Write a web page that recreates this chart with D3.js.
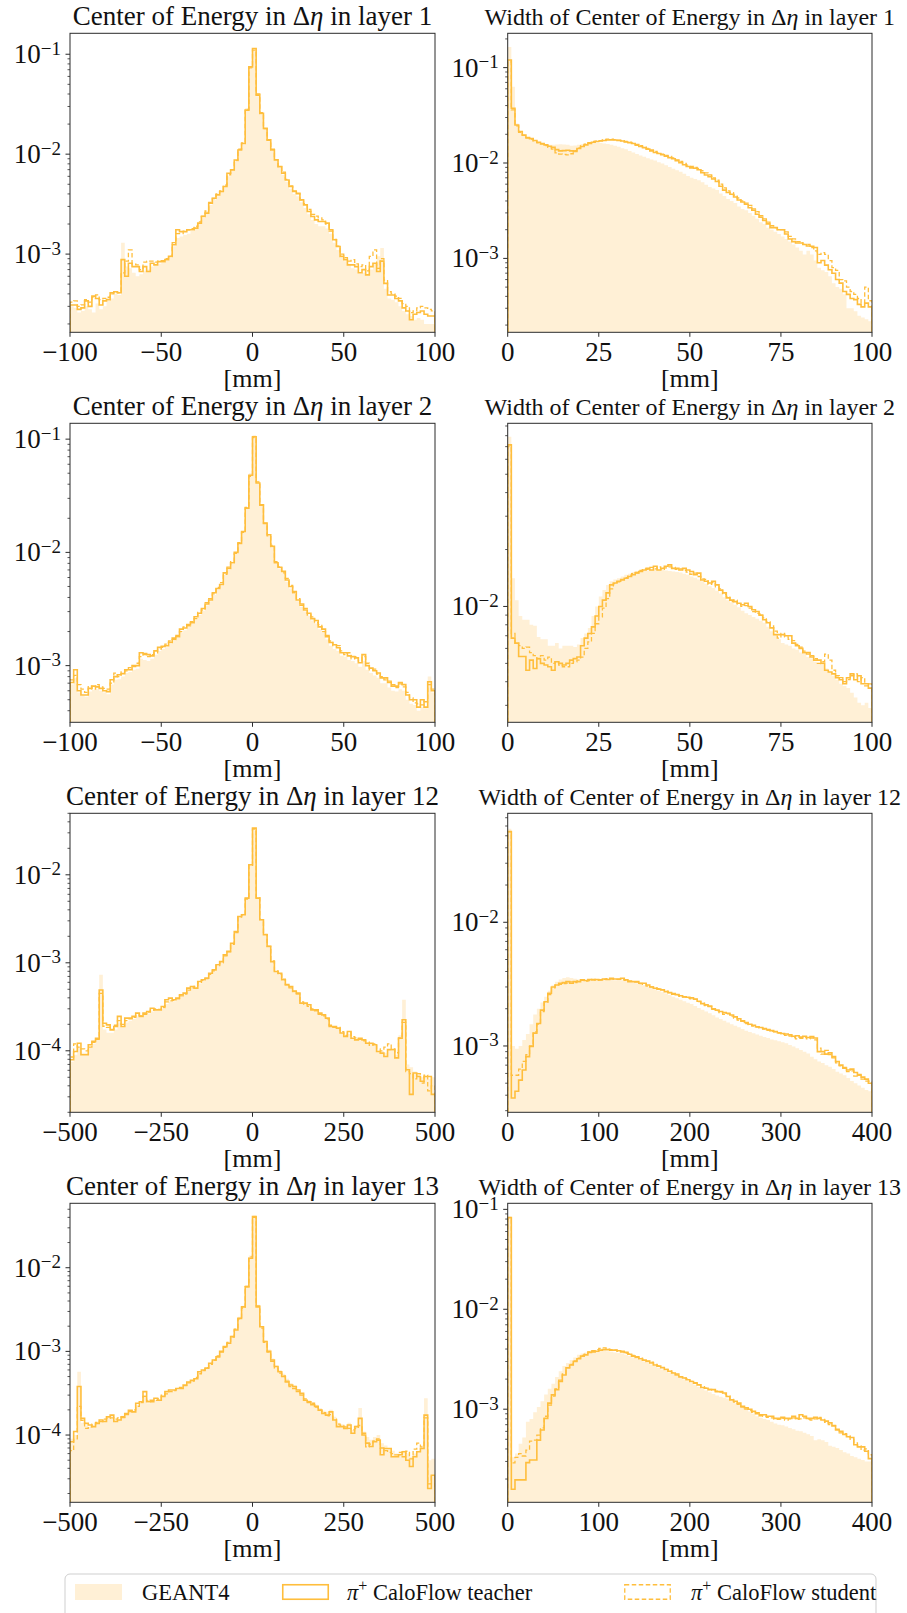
<!DOCTYPE html>
<html><head><meta charset="utf-8">
<script src="https://cdn.jsdelivr.net/npm/d3@7"></script>
<style>body{margin:0;background:#fff}svg{display:block}</style>
</head><body>
<svg id="chart" width="907" height="1613"></svg>
<script>
// ---------------- DATA ----------------
const legendLabels = ["GEANT4", "CaloFlow teacher", "CaloFlow student"];
const xLabel = "[mm]";

const p1Ticks = [-100, -50, 0, 50, 100];
const p2Ticks = [0, 25, 50, 75, 100];
const p5Ticks = [-500, -250, 0, 250, 500];
const p6Ticks = [0, 100, 200, 300, 400];

const p1Geant = [3.0e-4,2.9e-4,2.6e-4,2.7e-4,3.0e-4,2.8e-4,2.6e-4,3.2e-4,2.8e-4,3.0e-4,
3.4e-4,3.6e-4,4.0e-4,3.9e-4,1.3e-3,7.5e-4,7.2e-4,6.5e-4,6.0e-4,6.3e-4,
6.8e-4,7.0e-4,7.5e-4,7.6e-4,8.0e-4,8.2e-4,8.6e-4,9.2e-4,1.2e-3,1.45e-3,
1.5e-3,1.55e-3,1.6e-3,1.7e-3,1.8e-3,2.0e-3,2.3e-3,2.7e-3,3.1e-3,3.5e-3,
3.8e-3,4.3e-3,4.8e-3,6.0e-3,6.8e-3,8.4e-3,1.08e-2,1.25e-2,2.9e-2,7.2e-2,
0.108,3.8e-2,2.5e-2,1.78e-2,1.35e-2,1.08e-2,8.6e-3,7.3e-3,6.2e-3,5.3e-3,
4.5e-3,4.0e-3,3.8e-3,3.3e-3,2.9e-3,2.5e-3,2.2e-3,2.0e-3,1.9e-3,1.9e-3,
1.8e-3,1.6e-3,1.3e-3,1.1e-3,9.2e-4,8.5e-4,7.8e-4,7.2e-4,7.0e-4,6.4e-4,
6.5e-4,6.2e-4,7.0e-4,8.0e-4,9.5e-4,1.15e-3,4.5e-4,3.6e-4,3.5e-4,3.3e-4,
3.0e-4,2.7e-4,2.5e-4,2.4e-4,2.2e-4,2.3e-4,2.2e-4,2.0e-4,2.0e-4,2.0e-4];
const p1Teacher = [3.1e-4,3.1e-4,2.8e-4,2.9e-4,3.4e-4,3.0e-4,3.8e-4,3.6e-4,3.1e-4,3.4e-4,
3.5e-4,4.1e-4,4.2e-4,4.1e-4,8.8e-4,6.0e-4,8.1e-4,7.5e-4,7.5e-4,6.7e-4,
7.5e-4,6.7e-4,8.1e-4,7.8e-4,8.4e-4,8.4e-4,8.8e-4,9.5e-4,1.24e-3,1.75e-3,
1.68e-3,1.68e-3,1.75e-3,1.75e-3,1.82e-3,2.04e-3,2.38e-3,2.57e-3,3.23e-3,3.62e-3,
3.91e-3,4.23e-3,4.74e-3,6.44e-3,6.95e-3,8.75e-3,1.1e-2,1.28e-2,2.76e-2,7.48e-2,
0.114,3.9e-2,2.56e-2,1.81e-2,1.38e-2,1.1e-2,8.75e-3,7.5e-3,6.44e-3,5.52e-3,
4.74e-3,4.23e-3,4.07e-3,3.49e-3,3.11e-3,2.67e-3,2.38e-3,2.2e-3,2.12e-3,2.12e-3,
2.04e-3,1.75e-3,1.39e-3,1.19e-3,9.5e-4,8.8e-4,7.8e-4,7.8e-4,7.5e-4,6.5e-4,
7.0e-4,6.2e-4,7.5e-4,8.1e-4,6.7e-4,8.5e-4,5.1e-4,3.9e-4,3.9e-4,3.6e-4,
3.4e-4,2.9e-4,2.7e-4,2.2e-4,2.5e-4,2.6e-4,2.7e-4,2.5e-4,2.4e-4,2.4e-4];
const p1Student = [3.3e-4,3.4e-4,3.0e-4,3.1e-4,3.5e-4,3.3e-4,3.7e-4,3.9e-4,3.5e-4,3.6e-4,
3.7e-4,4.0e-4,4.2e-4,4.1e-4,6.5e-4,8.5e-4,1.1e-3,8.0e-4,7.8e-4,7.0e-4,
8.3e-4,8.5e-4,8.5e-4,8.3e-4,8.5e-4,8.6e-4,9.0e-4,9.5e-4,1.3e-3,1.6e-3,
1.6e-3,1.7e-3,1.75e-3,1.8e-3,1.9e-3,2.1e-3,2.4e-3,2.7e-3,3.3e-3,3.6e-3,
4.0e-3,4.3e-3,4.9e-3,6.2e-3,7.0e-3,8.6e-3,1.12e-2,1.3e-2,2.8e-2,7.3e-2,
0.11,4.0e-2,2.6e-2,1.8e-2,1.4e-2,1.12e-2,8.8e-3,7.5e-3,6.6e-3,5.6e-3,
4.8e-3,4.3e-3,4.0e-3,3.5e-3,3.2e-3,2.8e-3,2.5e-3,2.4e-3,2.3e-3,2.2e-3,
2.0e-3,1.7e-3,1.4e-3,1.2e-3,1.0e-3,9.2e-4,8.5e-4,8.8e-4,8.0e-4,7.5e-4,
7.8e-4,6.8e-4,9.5e-4,1.1e-3,7.2e-4,9.0e-4,5.5e-4,4.2e-4,4.0e-4,3.8e-4,
3.6e-4,3.2e-4,3.0e-4,2.6e-4,2.7e-4,2.9e-4,3.0e-4,2.9e-4,2.8e-4,2.7e-4];

const p2Geant = [0.165,0.063,0.026,0.021,0.0195,0.0185,0.0178,0.0172,0.0166,0.0162,
0.0158,0.0155,0.0155,0.0156,0.0157,0.0156,0.0155,0.0152,0.0153,0.0155,
0.0158,0.016,0.0162,0.0163,0.0163,0.0162,0.016,0.0158,0.0155,0.0152,
0.0148,0.0143,0.0139,0.0134,0.0129,0.0124,0.012,0.0116,0.0112,0.0109,
0.0106,0.0102,0.0099,0.0095,0.0091,0.0087,0.0084,0.0081,0.0077,0.0073,
0.007,0.0068,0.0066,0.0063,0.0059,0.0056,0.0054,0.0052,0.0048,0.0045,
0.0042,0.004,0.0038,0.0035,0.0033,0.0032,0.003,0.0028,0.0026,0.0024,
0.0023,0.0021,0.002,0.0019,0.0018,0.0017,0.0016,0.0015,0.0014,0.0013,
0.0012,0.0011,0.0012,0.0011,0.00095,0.0008,0.00075,0.00072,0.00065,0.00055,
0.0005,0.00048,0.00042,0.0003,0.0003,0.00028,0.00025,0.00024,0.00023,0.00022];
const p2Teacher = [0.12,0.0375,0.025,0.0214,0.0197,0.0185,0.018,0.0172,0.0165,0.016,
0.0155,0.015,0.0146,0.0138,0.0134,0.0135,0.0136,0.0134,0.0132,0.0142,
0.0149,0.0155,0.016,0.0165,0.0168,0.017,0.0172,0.0174,0.0175,0.0174,
0.0172,0.017,0.0166,0.0163,0.016,0.0154,0.0149,0.0145,0.014,0.0134,
0.0129,0.0126,0.0122,0.0118,0.0114,0.0111,0.0106,0.0101,0.0096,0.0092,
0.0089,0.0088,0.0085,0.0079,0.0075,0.0072,0.0068,0.0064,0.0057,0.0052,
0.0049,0.0047,0.0044,0.0041,0.0039,0.0037,0.0034,0.0032,0.0029,0.0027,
0.0025,0.0023,0.0021,0.0021,0.002,0.002,0.0018,0.0016,0.0015,0.00145,
0.00145,0.0014,0.00135,0.00134,0.0013,0.0009,0.00095,0.00085,0.00076,0.0007,
0.0006,0.00055,0.00045,0.00042,0.00038,0.00037,0.00033,0.00031,0.00034,0.00031];
const p2Student = [0.115,0.036,0.0245,0.021,0.0195,0.0183,0.0178,0.017,0.0163,0.0158,
0.0152,0.0146,0.014,0.0128,0.0124,0.0123,0.0122,0.0125,0.0135,0.0144,
0.0152,0.0158,0.0163,0.0168,0.017,0.0172,0.0176,0.0178,0.0178,0.0176,
0.0174,0.0172,0.0168,0.0165,0.0162,0.0157,0.0152,0.0147,0.0142,0.0137,
0.0132,0.0128,0.0124,0.012,0.0117,0.0113,0.0108,0.0104,0.0099,0.0095,
0.0092,0.009,0.0088,0.0083,0.0079,0.0075,0.007,0.0066,0.006,0.0055,
0.0051,0.0049,0.0046,0.0043,0.004,0.0038,0.0036,0.0033,0.0031,0.0028,
0.0026,0.0024,0.0022,0.0021,0.002,0.002,0.0019,0.0017,0.0016,0.0015,
0.0015,0.0014,0.0014,0.0013,0.0012,0.0011,0.00115,0.0011,0.00095,0.0008,
0.00075,0.0006,0.00058,0.0005,0.00045,0.00042,0.00038,0.00034,0.0005,0.00036];

const p3Geant = [6.8e-4,7.8e-4,5.8e-4,5.4e-4,5.3e-4,5.9e-4,6.1e-4,6.2e-4,6.0e-4,5.8e-4,
5.6e-4,6.8e-4,7.5e-4,7.6e-4,8.0e-4,8.6e-4,8.8e-4,9.2e-4,9.4e-4,1.15e-3,
1.12e-3,1.1e-3,1.15e-3,1.25e-3,1.35e-3,1.4e-3,1.45e-3,1.55e-3,1.65e-3,1.75e-3,
1.95e-3,2.05e-3,2.2e-3,2.35e-3,2.55e-3,2.8e-3,3.05e-3,3.4e-3,3.7e-3,4.2e-3,
4.7e-3,5.1e-3,6.3e-3,7.0e-3,7.9e-3,9.7e-3,1.18e-2,1.5e-2,2.5e-2,5.0e-2,
0.108,4.3e-2,2.6e-2,1.78e-2,1.4e-2,1.1e-2,8.0e-3,7.2e-3,6.5e-3,5.5e-3,
4.8e-3,4.3e-3,3.7e-3,3.3e-3,3.0e-3,2.75e-3,2.5e-3,2.35e-3,2.1e-3,1.95e-3,
1.7e-3,1.5e-3,1.4e-3,1.35e-3,1.22e-3,1.2e-3,1.12e-3,1.1e-3,1.05e-3,9.8e-4,
1.1e-3,9.2e-4,8.6e-4,8.2e-4,7.8e-4,7.0e-4,7.0e-4,6.4e-4,6.0e-4,5.9e-4,
6.2e-4,6.0e-4,5.0e-4,4.6e-4,4.5e-4,4.0e-4,4.3e-4,4.2e-4,8.0e-4,5.8e-4];
const p3Teacher = [7.1e-4,9.2e-4,6.0e-4,5.5e-4,5.5e-4,6.3e-4,6.6e-4,6.5e-4,6.3e-4,6.0e-4,
5.9e-4,7.5e-4,8.0e-4,8.3e-4,8.5e-4,9.2e-4,9.2e-4,1.0e-3,1.0e-3,1.3e-3,
1.28e-3,1.25e-3,1.22e-3,1.35e-3,1.45e-3,1.48e-3,1.5e-3,1.6e-3,1.75e-3,1.8e-3,
2.1e-3,2.15e-3,2.3e-3,2.4e-3,2.7e-3,2.9e-3,3.2e-3,3.5e-3,3.8e-3,4.4e-3,
4.8e-3,5.2e-3,6.6e-3,7.2e-3,8.1e-3,1.0e-2,1.2e-2,1.53e-2,2.46e-2,4.8e-2,
0.105,4.1e-2,2.63e-2,1.8e-2,1.43e-2,1.13e-2,8.1e-3,7.4e-3,6.8e-3,5.7e-3,
5.0e-3,4.5e-3,3.8e-3,3.5e-3,3.1e-3,2.9e-3,2.6e-3,2.5e-3,2.2e-3,2.1e-3,
1.8e-3,1.6e-3,1.53e-3,1.44e-3,1.3e-3,1.3e-3,1.22e-3,1.2e-3,1.17e-3,1.06e-3,
1.25e-3,1.0e-3,9.5e-4,9.0e-4,8.6e-4,7.8e-4,7.8e-4,7.1e-4,6.6e-4,6.6e-4,
7.1e-4,6.8e-4,5.5e-4,5.0e-4,5.0e-4,4.3e-4,5.0e-4,4.3e-4,7.2e-4,6.0e-4];
const p3Student = [7.5e-4,8.2e-4,6.8e-4,6.2e-4,5.8e-4,6.6e-4,6.2e-4,6.8e-4,6.5e-4,6.3e-4,
6.2e-4,7.0e-4,8.6e-4,8.0e-4,8.8e-4,9.0e-4,9.6e-4,9.8e-4,1.05e-3,1.2e-3,
1.25e-3,1.2e-3,1.25e-3,1.3e-3,1.4e-3,1.45e-3,1.55e-3,1.65e-3,1.7e-3,1.85e-3,
2.0e-3,2.2e-3,2.25e-3,2.45e-3,2.6e-3,2.95e-3,3.1e-3,3.6e-3,3.9e-3,4.3e-3,
4.9e-3,5.4e-3,6.4e-3,7.4e-3,8.3e-3,9.8e-3,1.22e-2,1.5e-2,2.5e-2,4.7e-2,
0.103,4.2e-2,2.6e-2,1.82e-2,1.4e-2,1.15e-2,8.3e-3,7.5e-3,6.6e-3,5.9e-3,
5.1e-3,4.4e-3,3.9e-3,3.4e-3,3.2e-3,2.8e-3,2.7e-3,2.4e-3,2.3e-3,2.0e-3,
1.85e-3,1.65e-3,1.5e-3,1.5e-3,1.35e-3,1.25e-3,1.3e-3,1.15e-3,1.2e-3,1.1e-3,
1.2e-3,1.05e-3,9.2e-4,9.3e-4,8.4e-4,8.0e-4,7.5e-4,7.3e-4,6.8e-4,6.4e-4,
6.9e-4,6.5e-4,5.8e-4,5.2e-4,4.7e-4,4.6e-4,4.5e-4,4.8e-4,6.8e-4,6.2e-4];

const p4Geant = [0.079,0.0141,0.0108,0.0089,0.0085,0.0085,0.008,0.0079,0.0069,0.0067,
0.0067,0.0062,0.0062,0.0064,0.006,0.0062,0.0062,0.0062,0.0061,0.0063,
0.0068,0.0072,0.0077,0.0089,0.01,0.0113,0.0122,0.013,0.0136,0.0139,
0.0141,0.0144,0.0147,0.0149,0.0152,0.0154,0.0155,0.0156,0.0155,0.0156,
0.0157,0.0155,0.0156,0.0155,0.0154,0.0153,0.0152,0.0151,0.0149,0.0147,
0.0144,0.0142,0.0139,0.0136,0.0132,0.0128,0.0125,0.0121,0.0117,0.0112,
0.0108,0.0105,0.0102,0.0099,0.0095,0.0092,0.009,0.0088,0.0086,0.0084,
0.0082,0.0078,0.0074,0.0071,0.0067,0.0064,0.0063,0.0062,0.006,0.0059,
0.0057,0.0056,0.0054,0.0053,0.0051,0.005,0.0049,0.0047,0.0045,0.0043,
0.0041,0.0039,0.0038,0.0037,0.0035,0.0033,0.0031,0.003,0.0031,0.0029];
const p4Teacher = [0.0715,0.0068,0.0064,0.00544,0.00544,0.0046,0.0052,0.0047,0.0053,0.005,
0.0049,0.0048,0.0046,0.0051,0.005,0.0049,0.005,0.0052,0.0053,0.0054,
0.0062,0.0068,0.0072,0.0078,0.0089,0.01,0.0108,0.0118,0.013,0.0133,
0.0136,0.0138,0.0141,0.0144,0.0147,0.0151,0.0153,0.0156,0.0159,0.0156,
0.0163,0.0156,0.0159,0.0163,0.0166,0.0159,0.0159,0.0156,0.0159,0.0156,
0.0153,0.0147,0.015,0.0138,0.0136,0.0133,0.0136,0.013,0.0122,0.0118,
0.0111,0.0108,0.0106,0.0104,0.0102,0.0104,0.01,0.0096,0.0094,0.009,
0.0085,0.0082,0.0077,0.0071,0.0071,0.0071,0.007,0.007,0.0064,0.0062,
0.006,0.0057,0.0057,0.0054,0.0052,0.0052,0.005,0.0046,0.0045,0.0044,
0.0042,0.0041,0.0039,0.0042,0.0044,0.0041,0.0043,0.0039,0.0039,0.0037];
const p4Student = [0.07,0.0072,0.0064,0.0062,0.006,0.0061,0.0057,0.0055,0.0053,0.0055,
0.0052,0.0054,0.005,0.0051,0.0049,0.0048,0.0048,0.005,0.0051,0.0052,
0.0054,0.006,0.0065,0.0072,0.0081,0.0088,0.0098,0.011,0.0124,0.0132,
0.0135,0.0139,0.0142,0.0146,0.0149,0.015,0.0155,0.0158,0.0157,0.0161,
0.0158,0.0162,0.0157,0.016,0.0162,0.0161,0.0157,0.0158,0.0155,0.0152,
0.0148,0.015,0.0144,0.014,0.0139,0.0131,0.0134,0.0127,0.0124,0.0116,
0.0113,0.0106,0.0108,0.0103,0.01,0.0101,0.0098,0.0094,0.0092,0.0091,
0.0087,0.0083,0.0079,0.0074,0.0068,0.0072,0.0069,0.0067,0.0066,0.0063,
0.0061,0.0058,0.0056,0.0055,0.0053,0.005,0.0051,0.0056,0.0052,0.0046,
0.0043,0.0042,0.004,0.0041,0.0043,0.0044,0.004,0.0042,0.0038,0.0039];

const p5Geant = [7.5e-5,9.0e-5,1.1e-4,9.5e-5,9.5e-5,1.1e-4,1.2e-4,1.35e-4,7.3e-4,1.75e-4,
1.6e-4,1.6e-4,1.75e-4,2.1e-4,1.9e-4,2.1e-4,2.2e-4,2.3e-4,2.45e-4,2.4e-4,
2.55e-4,2.65e-4,2.8e-4,2.85e-4,2.85e-4,3.0e-4,3.4e-4,3.6e-4,3.65e-4,3.8e-4,
4.1e-4,4.3e-4,4.8e-4,5.1e-4,5.2e-4,5.8e-4,6.2e-4,6.6e-4,7.3e-4,8.0e-4,
9.2e-4,1.0e-3,1.2e-3,1.32e-3,1.65e-3,2.3e-3,3.4e-3,3.6e-3,5.6e-3,1.3e-2,
3.2e-2,5.6e-3,3.0e-3,2.05e-3,1.5e-3,1.02e-3,8.0e-4,7.5e-4,6.3e-4,5.5e-4,
5.2e-4,4.6e-4,4.3e-4,3.5e-4,3.4e-4,3.2e-4,2.9e-4,2.8e-4,2.6e-4,2.5e-4,
2.3e-4,1.9e-4,1.85e-4,1.8e-4,1.6e-4,1.45e-4,1.55e-4,1.4e-4,1.35e-4,1.35e-4,
1.3e-4,1.25e-4,1.2e-4,1.15e-4,1.0e-4,1.0e-4,9.5e-5,1.05e-4,1.0e-4,9.0e-5,
1.5e-4,3.8e-4,7.0e-5,6.5e-5,5.8e-5,5.5e-5,5.0e-5,5.2e-5,4.8e-5,5.0e-5];
const p5Teacher = [7.9e-5,9.8e-5,1.22e-4,9.0e-5,9.0e-5,1.17e-4,1.28e-4,1.39e-4,4.9e-4,2.06e-4,
1.97e-4,1.73e-4,1.89e-4,2.46e-4,1.89e-4,2.35e-4,2.35e-4,2.46e-4,2.68e-4,2.46e-4,
2.68e-4,2.8e-4,3.05e-4,2.92e-4,2.92e-4,3.19e-4,3.8e-4,3.97e-4,3.8e-4,3.97e-4,
4.33e-4,4.52e-4,5.15e-4,5.38e-4,5.15e-4,6.14e-4,6.41e-4,6.7e-4,7.6e-4,8.3e-4,
9.5e-4,1.03e-3,1.23e-3,1.35e-3,1.67e-3,2.27e-3,3.36e-3,3.51e-3,5.43e-3,1.3e-2,
3.39e-2,5.43e-3,3.08e-3,2.08e-3,1.53e-3,1.03e-3,7.97e-4,7.6e-4,6.41e-4,5.6e-4,
5.38e-4,4.72e-4,4.52e-4,3.48e-4,3.48e-4,3.33e-4,2.92e-4,2.92e-4,2.68e-4,2.56e-4,
2.35e-4,1.89e-4,1.89e-4,1.81e-4,1.59e-4,1.46e-4,1.66e-4,1.39e-4,1.33e-4,1.39e-4,
1.33e-4,1.22e-4,1.22e-4,1.17e-4,9.8e-5,9.4e-5,8.6e-5,1.03e-4,1.03e-4,8.3e-5,
1.39e-4,2.25e-4,6.1e-5,3.2e-5,5.6e-5,5.1e-5,4.5e-5,5.1e-5,5.1e-5,3.2e-5];
const p5Student = [8.5e-5,1.2e-4,1.1e-4,1.05e-4,1.0e-4,1.1e-4,1.25e-4,1.35e-4,4.5e-4,1.9e-4,
1.85e-4,1.75e-4,1.95e-4,2.2e-4,2.0e-4,2.2e-4,2.3e-4,2.4e-4,2.55e-4,2.5e-4,
2.6e-4,2.75e-4,2.9e-4,3.0e-4,2.95e-4,3.1e-4,3.6e-4,3.7e-4,3.75e-4,3.9e-4,
4.2e-4,4.4e-4,4.9e-4,5.2e-4,5.4e-4,5.9e-4,6.3e-4,6.6e-4,7.4e-4,8.1e-4,
9.3e-4,1.0e-3,1.2e-3,1.33e-3,1.62e-3,2.2e-3,3.3e-3,3.5e-3,5.3e-3,1.28e-2,
3.3e-2,5.5e-3,3.1e-3,2.1e-3,1.55e-3,1.05e-3,8.1e-4,7.4e-4,6.5e-4,5.7e-4,
5.2e-4,4.8e-4,4.4e-4,3.6e-4,3.4e-4,3.2e-4,3.0e-4,2.85e-4,2.6e-4,2.5e-4,
2.3e-4,1.95e-4,1.85e-4,1.85e-4,1.65e-4,1.5e-4,1.6e-4,1.45e-4,1.4e-4,1.35e-4,
1.3e-4,1.25e-4,1.15e-4,1.2e-4,1.05e-4,1.0e-4,1.1e-4,1.2e-4,1.05e-4,9.5e-5,
1.4e-4,2.1e-4,5.8e-5,5.5e-5,4.8e-5,5.5e-5,4.3e-5,5.3e-5,3.5e-5,4.0e-5];

const p6Geant = [0.057,1.0e-3,9.5e-4,1.0e-3,1.12e-3,1.25e-3,1.5e-3,1.8e-3,2.0e-3,2.25e-3,
2.5e-3,2.8e-3,3.1e-3,3.3e-3,3.45e-3,3.55e-3,3.6e-3,3.55e-3,3.5e-3,3.45e-3,
3.45e-3,3.42e-3,3.45e-3,3.48e-3,3.45e-3,3.42e-3,3.45e-3,3.42e-3,3.45e-3,3.4e-3,
3.42e-3,3.4e-3,3.38e-3,3.32e-3,3.28e-3,3.22e-3,3.15e-3,3.1e-3,3.0e-3,2.95e-3,
2.88e-3,2.8e-3,2.72e-3,2.65e-3,2.58e-3,2.5e-3,2.43e-3,2.36e-3,2.3e-3,2.24e-3,
2.18e-3,2.1e-3,2.03e-3,1.96e-3,1.9e-3,1.84e-3,1.77e-3,1.7e-3,1.65e-3,1.6e-3,
1.55e-3,1.5e-3,1.46e-3,1.42e-3,1.37e-3,1.33e-3,1.3e-3,1.27e-3,1.24e-3,1.21e-3,
1.18e-3,1.16e-3,1.13e-3,1.11e-3,1.09e-3,1.07e-3,1.05e-3,1.02e-3,9.9e-4,9.6e-4,
9.3e-4,9.0e-4,8.7e-4,8.2e-4,7.8e-4,7.5e-4,7.3e-4,7.0e-4,6.8e-4,6.5e-4,
6.2e-4,6.0e-4,5.8e-4,5.5e-4,5.2e-4,5.0e-4,4.8e-4,4.6e-4,4.4e-4,4.3e-4];
const p6Teacher = [0.054,3.8e-4,4.3e-4,5.3e-4,6.4e-4,8.2e-4,9.9e-4,1.27e-3,1.52e-3,1.95e-3,
2.28e-3,2.67e-3,3.0e-3,3.11e-3,3.21e-3,3.25e-3,3.31e-3,3.21e-3,3.31e-3,3.31e-3,
3.42e-3,3.38e-3,3.45e-3,3.42e-3,3.45e-3,3.42e-3,3.48e-3,3.45e-3,3.53e-3,3.48e-3,
3.48e-3,3.53e-3,3.42e-3,3.31e-3,3.31e-3,3.31e-3,3.21e-3,3.21e-3,3.11e-3,3.0e-3,
2.93e-3,2.88e-3,2.84e-3,2.75e-3,2.7e-3,2.65e-3,2.6e-3,2.55e-3,2.5e-3,2.48e-3,
2.45e-3,2.4e-3,2.3e-3,2.2e-3,2.15e-3,2.1e-3,2.0e-3,1.95e-3,1.9e-3,1.86e-3,
1.84e-3,1.78e-3,1.72e-3,1.66e-3,1.6e-3,1.55e-3,1.5e-3,1.47e-3,1.43e-3,1.41e-3,
1.38e-3,1.36e-3,1.33e-3,1.31e-3,1.28e-3,1.26e-3,1.25e-3,1.23e-3,1.2e-3,1.21e-3,
1.18e-3,1.2e-3,1.17e-3,1.19e-3,1.16e-3,9.0e-4,9.0e-4,8.6e-4,8.8e-4,8.2e-4,
7.5e-4,7.0e-4,6.6e-4,6.4e-4,6.5e-4,6.1e-4,5.8e-4,5.6e-4,5.4e-4,5.0e-4];
const p6Student = [0.054,5.8e-4,5.8e-4,6.5e-4,7.5e-4,8.5e-4,1.0e-3,1.3e-3,1.5e-3,1.9e-3,
2.25e-3,2.6e-3,2.95e-3,3.1e-3,3.15e-3,3.2e-3,3.22e-3,3.3e-3,3.25e-3,3.35e-3,
3.4e-3,3.35e-3,3.38e-3,3.45e-3,3.4e-3,3.42e-3,3.45e-3,3.5e-3,3.47e-3,3.45e-3,
3.45e-3,3.48e-3,3.4e-3,3.35e-3,3.3e-3,3.28e-3,3.2e-3,3.15e-3,3.05e-3,3.0e-3,
2.95e-3,2.9e-3,2.85e-3,2.78e-3,2.7e-3,2.62e-3,2.6e-3,2.52e-3,2.48e-3,2.45e-3,
2.4e-3,2.38e-3,2.28e-3,2.22e-3,2.12e-3,2.08e-3,1.98e-3,1.93e-3,1.86e-3,1.8e-3,
1.82e-3,1.74e-3,1.68e-3,1.62e-3,1.58e-3,1.52e-3,1.49e-3,1.45e-3,1.42e-3,1.4e-3,
1.37e-3,1.34e-3,1.31e-3,1.3e-3,1.27e-3,1.24e-3,1.22e-3,1.2e-3,1.17e-3,1.14e-3,
1.15e-3,1.18e-3,1.14e-3,1.16e-3,1.12e-3,9.6e-4,8.6e-4,9.2e-4,8.5e-4,8.0e-4,
7.3e-4,6.9e-4,6.7e-4,6.2e-4,6.3e-4,5.7e-4,5.9e-4,5.4e-4,5.2e-4,5.2e-4];

const p7Geant = [9.0e-5,1.0e-4,5.7e-4,1.4e-4,1.3e-4,1.25e-4,1.3e-4,1.4e-4,1.45e-4,1.5e-4,
1.6e-4,1.75e-4,1.5e-4,1.55e-4,1.7e-4,1.8e-4,1.95e-4,1.95e-4,2.3e-4,2.4e-4,
3.0e-4,2.4e-4,2.5e-4,2.6e-4,2.7e-4,2.9e-4,3.2e-4,3.3e-4,3.4e-4,3.5e-4,
3.6e-4,3.9e-4,4.2e-4,4.5e-4,4.8e-4,5.5e-4,6.0e-4,6.4e-4,7.1e-4,8.0e-4,
8.8e-4,1.0e-3,1.15e-3,1.3e-3,1.55e-3,1.9e-3,2.6e-3,3.5e-3,6.2e-3,1.4e-2,
4.2e-2,3.6e-3,2.0e-3,1.35e-3,1.05e-3,8.2e-4,6.8e-4,6.0e-4,5.4e-4,4.7e-4,
4.2e-4,3.9e-4,3.5e-4,3.1e-4,2.7e-4,2.6e-4,2.45e-4,2.3e-4,2.1e-4,1.95e-4,
1.9e-4,2.0e-4,1.65e-4,1.4e-4,1.35e-4,1.3e-4,1.4e-4,1.15e-4,1.3e-4,2.1e-4,
1.1e-4,9.5e-5,8.8e-5,9.5e-5,1.0e-4,8.0e-5,7.5e-5,7.0e-5,6.5e-5,6.0e-5,
6.0e-5,6.5e-5,6.0e-5,5.5e-5,6.0e-5,6.5e-5,7.5e-5,2.75e-4,5.0e-5,5.2e-5];
const p7Teacher = [8.3e-5,1.1e-4,3.8e-4,1.58e-4,1.38e-4,1.32e-4,1.26e-4,1.38e-4,1.51e-4,1.45e-4,
1.65e-4,1.73e-4,1.45e-4,1.51e-4,1.65e-4,1.81e-4,1.98e-4,1.89e-4,2.4e-4,2.5e-4,
3.3e-4,2.5e-4,2.6e-4,2.75e-4,2.6e-4,2.9e-4,3.3e-4,3.45e-4,3.45e-4,3.6e-4,
3.6e-4,3.96e-4,4.3e-4,4.5e-4,4.7e-4,5.7e-4,6.0e-4,6.3e-4,7.2e-4,7.9e-4,
8.6e-4,1.0e-3,1.14e-3,1.25e-3,1.5e-3,1.8e-3,2.48e-3,3.4e-3,5.9e-3,1.3e-2,
4.08e-2,3.4e-3,1.97e-3,1.31e-3,1.0e-3,7.9e-4,6.6e-4,5.7e-4,5.0e-4,4.3e-4,
3.96e-4,3.8e-4,3.45e-4,3.15e-4,2.6e-4,2.5e-4,2.3e-4,2.2e-4,1.98e-4,1.81e-4,
1.73e-4,1.89e-4,1.51e-4,1.26e-4,1.26e-4,1.2e-4,1.32e-4,1.05e-4,1.26e-4,1.58e-4,
1.0e-4,8.0e-5,7.3e-5,8.3e-5,8.7e-5,5.8e-5,6.9e-5,6.9e-5,5.5e-5,5.5e-5,
5.8e-5,6.3e-5,5.0e-5,4.2e-5,5.5e-5,6.3e-5,6.9e-5,1.73e-4,2.3e-5,3.3e-5];
const p7Student = [6.5e-5,9.0e-5,2.2e-4,1.5e-4,1.2e-4,1.25e-4,1.35e-4,1.42e-4,1.45e-4,1.55e-4,
1.58e-4,1.6e-4,1.55e-4,1.6e-4,1.62e-4,1.75e-4,1.9e-4,2.0e-4,2.2e-4,2.45e-4,
2.9e-4,2.55e-4,2.5e-4,2.6e-4,2.7e-4,3.0e-4,3.1e-4,3.3e-4,3.4e-4,3.55e-4,
3.7e-4,3.9e-4,4.2e-4,4.4e-4,4.9e-4,5.4e-4,5.9e-4,6.4e-4,7.0e-4,7.8e-4,
8.8e-4,9.8e-4,1.12e-3,1.28e-3,1.48e-3,1.85e-3,2.45e-3,3.3e-3,6.0e-3,1.35e-2,
4.0e-2,3.5e-3,1.9e-3,1.28e-3,9.8e-4,7.6e-4,6.3e-4,5.5e-4,5.1e-4,4.4e-4,
3.8e-4,3.6e-4,3.3e-4,3.0e-4,2.7e-4,2.45e-4,2.4e-4,2.15e-4,2.0e-4,1.85e-4,
1.7e-4,1.75e-4,1.55e-4,1.35e-4,1.3e-4,1.25e-4,1.2e-4,1.15e-4,1.2e-4,1.3e-4,
1.05e-4,7.2e-5,7.8e-5,8.5e-5,9.0e-5,7.0e-5,6.5e-5,6.2e-5,6.0e-5,5.8e-5,
6.2e-5,5.5e-5,6.4e-5,5.2e-5,6.8e-5,8.0e-5,7.2e-5,1.6e-4,2.6e-5,3.2e-5];

const p8Geant = [0.085,3.3e-4,3.6e-4,4.5e-4,5.2e-4,7.5e-4,8.0e-4,9.3e-4,1.05e-3,1.2e-3,
1.4e-3,1.6e-3,1.8e-3,2.1e-3,2.4e-3,2.7e-3,2.9e-3,3.1e-3,3.3e-3,3.5e-3,
3.6e-3,3.7e-3,3.8e-3,3.85e-3,3.85e-3,3.85e-3,3.85e-3,3.8e-3,3.75e-3,3.7e-3,
3.65e-3,3.6e-3,3.5e-3,3.4e-3,3.3e-3,3.2e-3,3.1e-3,3.0e-3,2.9e-3,2.8e-3,
2.7e-3,2.6e-3,2.5e-3,2.42e-3,2.33e-3,2.25e-3,2.15e-3,2.05e-3,1.98e-3,1.9e-3,
1.82e-3,1.75e-3,1.67e-3,1.6e-3,1.54e-3,1.48e-3,1.42e-3,1.37e-3,1.33e-3,1.3e-3,
1.27e-3,1.2e-3,1.15e-3,1.1e-3,1.05e-3,1.0e-3,9.5e-4,9.0e-4,8.5e-4,8.2e-4,
8.0e-4,7.8e-4,7.5e-4,7.2e-4,7.0e-4,6.9e-4,6.7e-4,6.5e-4,6.3e-4,6.1e-4,
6.0e-4,5.8e-4,5.6e-4,5.4e-4,4.9e-4,5.0e-4,4.9e-4,4.7e-4,4.3e-4,4.2e-4,
4.1e-4,3.9e-4,3.7e-4,3.6e-4,3.4e-4,3.3e-4,3.2e-4,3.1e-4,3.0e-4,3.0e-4];
const p8Teacher = [0.0826,1.58e-4,1.96e-4,1.96e-4,1.96e-4,2.92e-4,3.1e-4,3.1e-4,4.9e-4,6.2e-4,
8.1e-4,1.15e-3,1.39e-3,1.57e-3,1.89e-3,2.2e-3,2.6e-3,2.77e-3,3.0e-3,3.2e-3,
3.4e-3,3.5e-3,3.7e-3,3.75e-3,3.8e-3,3.9e-3,3.95e-3,3.95e-3,3.9e-3,3.9e-3,
3.85e-3,3.75e-3,3.7e-3,3.55e-3,3.4e-3,3.3e-3,3.2e-3,3.1e-3,3.0e-3,2.9e-3,
2.77e-3,2.7e-3,2.6e-3,2.5e-3,2.4e-3,2.3e-3,2.2e-3,2.1e-3,2.05e-3,1.97e-3,
1.89e-3,1.82e-3,1.75e-3,1.65e-3,1.62e-3,1.57e-3,1.57e-3,1.5e-3,1.5e-3,1.45e-3,
1.34e-3,1.24e-3,1.2e-3,1.15e-3,1.07e-3,1.03e-3,1.0e-3,9.5e-4,9.2e-4,8.8e-4,
8.8e-4,8.5e-4,8.5e-4,8.1e-4,8.1e-4,8.3e-4,8.1e-4,8.1e-4,8.5e-4,8.1e-4,
8.8e-4,8.5e-4,8.1e-4,8.1e-4,8.3e-4,8.1e-4,7.8e-4,7.6e-4,7.3e-4,6.8e-4,
6.2e-4,6.0e-4,5.6e-4,5.3e-4,5.2e-4,4.4e-4,4.2e-4,4.2e-4,3.8e-4,3.2e-4];
const p8Student = [0.08,2.9e-4,3.3e-4,3.6e-4,3.4e-4,3.9e-4,4.8e-4,4.9e-4,5.5e-4,6.5e-4,
8.5e-4,1.1e-3,1.35e-3,1.6e-3,1.95e-3,2.25e-3,2.6e-3,2.8e-3,3.05e-3,3.25e-3,
3.45e-3,3.55e-3,3.75e-3,3.85e-3,3.95e-3,4.05e-3,4.1e-3,4.0e-3,3.95e-3,3.9e-3,
3.8e-3,3.8e-3,3.65e-3,3.6e-3,3.45e-3,3.35e-3,3.25e-3,3.1e-3,3.05e-3,2.95e-3,
2.8e-3,2.72e-3,2.62e-3,2.5e-3,2.42e-3,2.32e-3,2.25e-3,2.12e-3,2.05e-3,2.0e-3,
1.9e-3,1.84e-3,1.76e-3,1.68e-3,1.62e-3,1.58e-3,1.55e-3,1.52e-3,1.48e-3,1.42e-3,
1.36e-3,1.25e-3,1.18e-3,1.12e-3,1.05e-3,1.0e-3,9.7e-4,9.3e-4,9.0e-4,8.6e-4,
8.5e-4,8.3e-4,8.2e-4,8.0e-4,7.9e-4,8.1e-4,7.8e-4,8.0e-4,8.2e-4,7.9e-4,
8.0e-4,8.2e-4,7.9e-4,7.8e-4,8.0e-4,8.3e-4,7.9e-4,7.4e-4,7.0e-4,6.9e-4,
6.3e-4,5.8e-4,5.7e-4,5.4e-4,5.0e-4,4.6e-4,4.3e-4,3.9e-4,4.0e-4,3.5e-4];

// panel definitions (data references + axis limits)
const panels = [
  {kind:"center", layer:"1",  xRange:[-100,100], xTicks:p1Ticks, yDomain:[1.65e-4,0.162], geant:p1Geant, teacher:p1Teacher, student:p1Student},
  {kind:"width",  layer:"1",  xRange:[0,100],    xTicks:p2Ticks, yDomain:[1.68e-4,0.229], geant:p2Geant, teacher:p2Teacher, student:p2Student},
  {kind:"center", layer:"2",  xRange:[-100,100], xTicks:p1Ticks, yDomain:[3.16e-4,0.138], geant:p3Geant, teacher:p3Teacher, student:p3Student},
  {kind:"width",  layer:"2",  xRange:[0,100],    xTicks:p2Ticks, yDomain:[2.44e-3,0.093], geant:p4Geant, teacher:p4Teacher, student:p4Student},
  {kind:"center", layer:"12", xRange:[-500,500], xTicks:p5Ticks, yDomain:[2.0e-5,0.05],   geant:p5Geant, teacher:p5Teacher, student:p5Student},
  {kind:"width",  layer:"12", xRange:[0,400],    xTicks:p6Ticks, yDomain:[2.91e-4,0.076], geant:p6Geant, teacher:p6Teacher, student:p6Student},
  {kind:"center", layer:"13", xRange:[-500,500], xTicks:p5Ticks, yDomain:[1.57e-5,0.0589],geant:p7Geant, teacher:p7Teacher, student:p7Student},
  {kind:"width",  layer:"13", xRange:[0,400],    xTicks:p6Ticks, yDomain:[1.17e-4,0.115], geant:p8Geant, teacher:p8Teacher, student:p8Student}
];

// ---------------- DRAWING ----------------
const FONT = '"Liberation Serif","Times New Roman",serif';
const lineColor = "#FFBE3D";
const fillColor = "#FFF0D6";
const spineColor = "#2b2b2b";
const colX = [[70,435],[507.7,872]];
const rowTop = [33.3,423.3,813.3,1203.3];
const plotH = 299;

const svg = d3.select("#chart");
svg.append("rect").attr("width",907).attr("height",1613).attr("fill","#fff");
const defs = svg.append("defs");

const minus = "\u2212";
const fmtX = t => t < 0 ? minus + Math.abs(t) : String(t);

panels.forEach((p, idx) => {
  const col = idx % 2, row = Math.floor(idx / 2);
  const [x0, x1] = colX[col];
  const top = rowTop[row], bottom = top + plotH;
  const x = d3.scaleLinear().domain(p.xRange).range([x0, x1]);
  const y = d3.scaleLog().domain(p.yDomain).range([bottom, top]);
  const n = p.teacher.length;
  const bw = (p.xRange[1] - p.xRange[0]) / n;
  const edge = i => p.xRange[0] + i * bw;

  const clipId = "clip" + idx;
  defs.append("clipPath").attr("id", clipId)
    .append("rect").attr("x", x0).attr("y", top).attr("width", x1 - x0).attr("height", plotH);

  const g = svg.append("g");
  const plot = g.append("g").attr("clip-path", `url(#${clipId})`);

  const pts = vals => { const a = vals.map((v,i) => [x(edge(i)), y(v)]); a.push([x(edge(n)), y(vals[n-1])]); return a; };
  const area = d3.area().curve(d3.curveStepAfter).x(d => d[0]).y0(bottom).y1(d => d[1]);
  plot.append("path").attr("d", area(pts(p.geant))).attr("fill", fillColor);

  const line = d3.line().curve(d3.curveStepAfter);
  const outline = vals => { const a = pts(vals); return [[a[0][0], bottom], ...a, [a[a.length-1][0], bottom]]; };
  plot.append("path").attr("d", line(outline(p.student))).attr("fill","none")
    .attr("stroke", lineColor).attr("stroke-width", 1.3).attr("stroke-dasharray","4.5,2.5");
  plot.append("path").attr("d", line(outline(p.teacher))).attr("fill","none")
    .attr("stroke", lineColor).attr("stroke-width", 1.6);

  // spines
  g.append("rect").attr("x", x0).attr("y", top).attr("width", x1 - x0).attr("height", plotH)
    .attr("fill","none").attr("stroke", spineColor).attr("stroke-width", 1);

  // x ticks
  p.xTicks.forEach(t => {
    g.append("line").attr("x1", x(t)).attr("x2", x(t)).attr("y1", bottom).attr("y2", bottom + 4.5)
      .attr("stroke", spineColor).attr("stroke-width", 1);
    g.append("text").attr("x", x(t)).attr("y", bottom + 29).attr("text-anchor","middle")
      .attr("font-family", FONT).attr("font-size", 27).attr("fill","#111").text(fmtX(t));
  });

  // y ticks (log)
  const [d0, d1] = p.yDomain;
  for (let k = Math.floor(Math.log10(d0)); k <= Math.ceil(Math.log10(d1)); k++) {
    for (let m = 1; m <= 9; m++) {
      const v = m * Math.pow(10, k);
      if (v < d0 || v > d1) continue;
      const yy = y(v);
      const major = m === 1;
      g.append("line").attr("x1", x0 - (major ? 4.5 : 2.5)).attr("x2", x0).attr("y1", yy).attr("y2", yy)
        .attr("stroke", spineColor).attr("stroke-width", major ? 1 : 0.8);
      if (major) {
        const t = g.append("text").attr("x", x0 - 9).attr("y", yy + 9).attr("text-anchor","end")
          .attr("font-family", FONT).attr("font-size", 27).attr("fill","#111");
        t.append("tspan").text("10");
        t.append("tspan").attr("dy", -8.5).attr("font-size", 19).text(minus + Math.abs(k));
      }
    }
  }

  // title
  const cx = (x0 + x1) / 2;
  const isWidth = p.kind === "width";
  const title = g.append("text").attr("x", cx).attr("y", top - 8).attr("text-anchor","middle")
    .attr("font-family", FONT).attr("font-size", isWidth ? 24 : 27).attr("fill","#111");
  title.append("tspan").text((isWidth ? "Width of Center of Energy in " : "Center of Energy in ") + "\u0394");
  title.append("tspan").attr("font-style","italic").text("\u03b7");
  title.append("tspan").text(" in layer " + p.layer);

  // x label
  g.append("text").attr("x", cx).attr("y", bottom + 55).attr("text-anchor","middle")
    .attr("font-family", FONT).attr("font-size", 26).attr("fill","#111").text(xLabel);
});

// ---------------- LEGEND ----------------
const lg = svg.append("g");
lg.append("rect").attr("x", 65).attr("y", 1574).attr("width", 811).attr("height", 46).attr("rx", 5)
  .attr("fill", "#fff").attr("stroke", "#cfcfcf").attr("stroke-width", 1);
const items = [
  {px:75,  tx:142, type:"fill"},
  {px:282, tx:347, type:"solid"},
  {px:624, tx:691, type:"dash"}
];
items.forEach((it, i) => {
  const r = lg.append("rect").attr("x", it.px).attr("y", 1584).attr("width", 47).attr("height", 16);
  if (it.type === "fill") r.attr("fill", fillColor);
  else {
    r.attr("x", it.px + 0.75).attr("y", 1584.75).attr("width", 45.5).attr("height", 14.5)
      .attr("fill","none").attr("stroke", lineColor).attr("stroke-width", it.type === "solid" ? 1.6 : 1.3);
    if (it.type === "dash") r.attr("stroke-dasharray","4.5,2.5");
  }
  const t = lg.append("text").attr("x", it.tx).attr("y", 1600).attr("font-family", FONT)
    .attr("font-size", 22.5).attr("fill","#111");
  if (i === 0) t.text(legendLabels[0]);
  else {
    t.append("tspan").attr("font-style","italic").text("\u03c0");
    t.append("tspan").attr("dy", -9).attr("font-size", 16).text("+");
    t.append("tspan").attr("dy", 9).text(" " + legendLabels[i]);
  }
});
</script>
</body></html>
